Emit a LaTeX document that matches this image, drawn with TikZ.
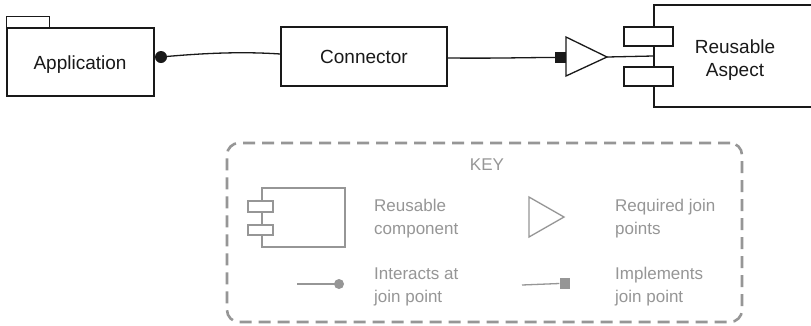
\documentclass[tikz,border=0pt]{standalone}
\usepackage{fontspec}
\setmainfont{Liberation Sans}
\definecolor{ink}{RGB}{25,25,25}
\definecolor{keygray}{RGB}{150,150,150}
\begin{document}
\begin{tikzpicture}[x=1pt,y=-1pt,
  box/.style={draw=ink, line width=1.3pt, inner sep=0pt},
  wire/.style={draw=ink, line width=1.3pt},
  mainfont/.style={font=\fontsize{19}{23}\selectfont, text=ink, inner sep=0pt},
  keyfont/.style={font=\fontsize{17}{23}\selectfont, text=keygray, inner sep=0pt},
  keybox/.style={draw=keygray, line width=1.3pt, inner sep=0pt},
  keyline/.style={draw=keygray, line width=1.3pt},
]
\useasboundingbox (0,0) rectangle (811,325);
\fill[white] (0,0) rectangle (811,325);
\clip (0,0) rectangle (811,325);

% Application package with its tab
\node[box, minimum width=147pt, minimum height=68pt] (app) at (80.5,62) {};
\draw[box] (app.north west) -- ++(0,-11) -- ++(43,0) -- ++(0,11);
\node[mainfont] (apptext) at (80,64.4) {Application};

% Connector
\node[box, minimum width=166pt, minimum height=59pt, mainfont] (conn) at (364,56.5) {Connector};

% Interacts-at-join-point dot
\node[circle, fill=ink, minimum size=12pt, inner sep=0pt] (dot) at (161,57) {};
\draw[wire] (dot.center) .. controls (215,52) and (250,52) .. ([yshift=2.5pt]conn.west);

% Implements-join-point square
\node[fill=ink, minimum size=11pt, inner sep=0pt] (impl) at (560.5,57.5) {};
\draw[wire] ([yshift=-1.5pt]conn.east) .. controls (500,58.5) and (520,57.5) .. (impl.west);

% Required join points triangle
\coordinate (reqtop) at (566,37);
\coordinate (reqbot) at (566,76);
\coordinate (reqtip) at (607,57);
\draw[wire, line join=miter] (reqtop) -- (reqtip) -- (reqbot) -- cycle;

% Reusable aspect component
\node[box, minimum width=162pt, minimum height=102pt] (aspect) at (735,56) {};
\node[box, fill=white, minimum width=49pt, minimum height=19pt] (port1) at (648.5,36.5) {};
\node[box, fill=white, minimum width=49pt, minimum height=19pt] (port2) at (648.5,76.5) {};
\draw[wire] (reqtip) -- (aspect.west);
\node[mainfont, align=center] (aspecttext) at (735,60) {Reusable\\Aspect};

% Key
\node[draw=keygray, line width=2.6pt, dash pattern=on 12pt off 7pt,
      rounded corners=12pt, minimum width=515pt, minimum height=179pt,
      inner sep=0pt] (key) at (484.5,232.5) {};
\node[keyfont] (keytitle) at (487,165) {KEY};

\node[keybox, minimum width=83pt, minimum height=59pt] (kcomp) at (303.5,217.5) {};
\node[keybox, fill=white, minimum width=25pt, minimum height=11pt] (kport1) at (260.5,206.5) {};
\node[keybox, fill=white, minimum width=25pt, minimum height=10pt] (kport2) at (260.5,230) {};
\node[keyfont, align=left, anchor=west] (kcomptext) at (374,219) {Reusable\\component};

\coordinate (kreqtop) at (529,197);
\coordinate (kreqbot) at (529,237);
\coordinate (kreqtip) at (564,217);
\draw[keyline, line join=miter] (kreqtop) -- (kreqtip) -- (kreqbot) -- cycle;
\node[keyfont, align=left, anchor=west] (kreqtext) at (615,219) {Required join\\points};

\coordinate (kdotstart) at (297,284);
\node[circle, fill=keygray, minimum size=10pt, inner sep=0pt] (kdot) at (339,284) {};
\draw[keyline] (kdotstart) -- (kdot.center);
\node[keyfont, align=left, anchor=west] (kdottext) at (374,287) {Interacts at\\join point};

\coordinate (kimplstart) at (522,285);
\node[fill=keygray, minimum width=10pt, minimum height=11pt, inner sep=0pt] (kimpl) at (564.5,283.5) {};
\draw[keyline] (kimplstart) -- (kimpl.west);
\node[keyfont, align=left, anchor=west] (kimpltext) at (615,287) {Implements\\join point};
\end{tikzpicture}
\end{document}
